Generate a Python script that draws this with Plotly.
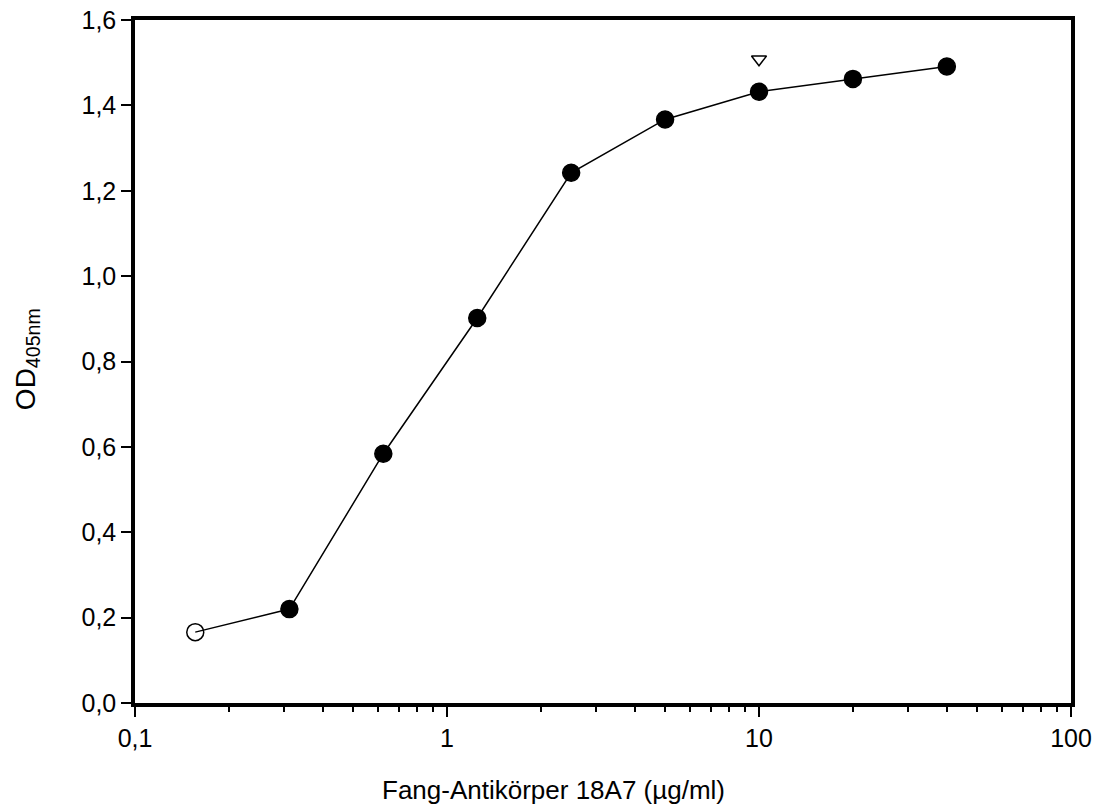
import plotly.graph_objects as go

conc = [0.156, 0.3125, 0.625, 1.25, 2.5, 5, 10, 20, 40]
od = [0.166, 0.220, 0.584, 0.902, 1.242, 1.367, 1.432, 1.462, 1.491]
symbols = ["circle-open"] + ["circle"] * 8

mark_x = [10]
mark_y = [1.508]

x_tickvals = [0.1, 1, 10, 100]
x_ticktext = ["0,1", "1", "10", "100"]
minor_vals = [m * d for d in (0.1, 1, 10) for m in range(2, 10)]

x_title = "Fang-Antikörper 18A7 (µg/ml)"
y_title = "OD<sub>405nm</sub>"

fig = go.Figure()
fig.add_trace(go.Scatter(
    x=conc, y=od, mode="lines+markers",
    line=dict(color="black", width=1.5),
    marker=dict(symbol=symbols, size=17, color="black",
                line=dict(color="black", width=1.5)),
    showlegend=False,
))
fig.add_trace(go.Scatter(
    x=mark_x, y=mark_y, mode="markers",
    marker=dict(symbol="triangle-down-open", size=13, color="black",
                line=dict(color="black", width=1.5)),
    showlegend=False,
))

fig.update_layout(
    width=1098, height=811,
    margin=dict(l=135, r=27, t=20, b=108, autoexpand=False),
    plot_bgcolor="white", paper_bgcolor="white",
    separators=",.",
    font=dict(family="Liberation Sans, Arial", size=25, color="black"),
    xaxis=dict(
        type="log", range=[-1, 2], automargin=False,
        tickvals=x_tickvals, ticktext=x_ticktext,
        tickfont=dict(size=25),
        ticks="outside", ticklen=10, tickwidth=1.5, tickcolor="black",
        showline=True, linewidth=3.5, linecolor="black", mirror=True,
        showgrid=False, zeroline=False,
        minor=dict(tickvals=minor_vals, ticks="outside", ticklen=5,
                   tickwidth=1.5, tickcolor="black", showgrid=False),
    ),
    yaxis=dict(
        range=[0, 1.6], dtick=0.2, tickformat=".1f", automargin=False,
        tickfont=dict(size=25),
        ticks="outside", ticklen=10, tickwidth=1.5, tickcolor="black",
        showline=True, linewidth=3.5, linecolor="black", mirror=True,
        showgrid=False, zeroline=False,
    ),
    annotations=[
        dict(text=x_title, xref="paper", yref="paper", x=0.4466, y=-0.127,
             xanchor="center", yanchor="middle", showarrow=False,
             font=dict(size=26)),
        dict(text=y_title, xref="paper", yref="paper", x=-0.115, y=0.504,
             xanchor="center", yanchor="middle", showarrow=False,
             textangle=-90, font=dict(size=28)),
    ],
)

fig.write_html("out.html")
